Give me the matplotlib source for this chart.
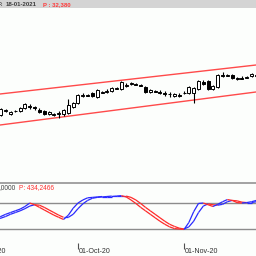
import matplotlib
matplotlib.use("Agg")
import matplotlib.pyplot as plt
import matplotlib.transforms as mtransforms
from matplotlib.collections import LineCollection
from matplotlib.patches import Rectangle
import pandas as pd

plt.rcParams["font.family"] = ["Liberation Sans", "DejaVu Sans"]

# ---------------- data ----------------
dates = pd.bdate_range("2020-09-01", periods=60)
first_idx = 6
opens = [30780, 30960, 30820, 30940, 30940, 31060, 31140, 31100, 30980, 30940,
         30820, 30780, 30840, 30820, 30860, 31100, 31260, 31560, 31580, 31660,
         31500, 31680, 31720, 31740, 31840, 31820, 31960, 32040, 32020, 31980,
         31900, 31700, 31740, 31700, 31660, 31640, 31540, 31580, 31660, 31660,
         31660, 31820, 32100, 32140, 31820, 31900, 32380, 32360, 32380, 32220,
         32260, 32280, 32340, 32340]
closes = [31020, 30980, 30900, 30960, 31060, 31220, 31100, 31060, 30900, 30820,
          30900, 30840, 30860, 30980, 31180, 31260, 31580, 31580, 31560, 31540,
          31780, 31700, 31740, 31860, 31860, 32100, 31980, 32060, 32000, 31960,
          31700, 31780, 31720, 31680, 31640, 31620, 31620, 31560, 31680, 31900,
          31860, 32140, 32020, 31820, 31940, 32380, 32360, 32380, 32260, 32260,
          32240, 32300, 32420, 32380]
highs = [31060, 31020, 30940, 31000, 31100, 31260, 31220, 31140, 31060, 30980,
         30940, 30880, 30940, 31020, 31420, 31300, 31620, 31660, 31620, 31700,
         31820, 31740, 31820, 31900, 31900, 32140, 32060, 32100, 32060, 32020,
         31940, 31820, 31780, 31780, 31740, 31700, 31660, 31660, 31740, 31940,
         31900, 32180, 32180, 32180, 31980, 32420, 32500, 32420, 32420, 32300,
         32340, 32340, 32460, 32420]
lows = [30740, 30900, 30780, 30900, 30900, 31020, 31020, 30980, 30860, 30780,
        30780, 30740, 30660, 30740, 30820, 31060, 31220, 31500, 31540, 31500,
        31460, 31660, 31660, 31700, 31820, 31780, 31900, 31980, 31980, 31940,
        31660, 31660, 31700, 31620, 31540, 31500, 31500, 31500, 31620, 31620,
        31260, 31780, 31980, 31780, 31780, 31860, 32300, 32340, 32220, 32180,
        32220, 32260, 32300, 32300]

# channel anchors (bar index, price)
channel_upper = [(0, 31493), (60, 32803)]
channel_lower = [(0, 30235), (60, 31727)]

# stochastic oscillator, from bar 5
stoch_first = 5
stoch_k = [45, 49, 54, 58, 62, 66, 72, 80, 76, 70, 64, 58, 52, 47, 42, 52, 68, 80,
           87, 92, 93, 94, 95, 95, 96, 96, 97, 94, 87, 79, 70, 62, 54, 46, 38, 31,
           25, 21, 20, 19, 35, 60, 79, 80, 76, 72, 77, 83, 88, 86, 81, 80, 81, 83, 86]
stoch_d = [42, 45, 49, 54, 58, 62, 67, 73, 76, 75, 70, 64, 58, 52, 47, 47, 54, 67,
           78, 86, 91, 93, 94, 95, 95, 96, 96, 96, 93, 87, 79, 70, 62, 54, 46, 38,
           31, 26, 22, 20, 25, 38, 58, 73, 78, 76, 75, 77, 83, 86, 85, 82, 81, 81, 83]
stoch_levels = [80, 20]

tick_dates = ["2020-09-01", "2020-10-01", "2020-11-02"]
tick_labels = ["01-Sep-20", "01-Oct-20", "01-Nov-20"]

header_date = "18-01-2021"
header_price = "P : 32,380"
low_header_a = ",0000"
low_header_b = "P: 434,2466"

# ---------------- figure ----------------
W = H = 256
fig = plt.figure(figsize=(2.56, 2.56), dpi=100)
fig.patch.set_facecolor("#fcfefc")

def fy(px):
    return 1 - px / H

fig.patches.append(Rectangle((0, fy(8)), 1, 8 / H, transform=fig.transFigure,
                             facecolor="#d4d4d4", edgecolor="none", zorder=0))
fig.patches.append(Rectangle((0, fy(184)), 1, 2 / H, transform=fig.transFigure,
                             facecolor="#a4a4a4", edgecolor="none", zorder=0))

xlim = (5.82, 58.93)

ax = fig.add_axes([0, fy(182), 1, 174 / H])
ax.set_facecolor("#fcfefc")
for s in ax.spines.values():
    s.set_visible(False)
ax.set_xticks([]); ax.set_yticks([])

for ch in (channel_upper, channel_lower):
    ax.plot([p[0] for p in ch], [p[1] for p in ch], color="#ff4a4a", lw=1.0, zorder=1)

xs = list(range(first_idx, first_idx + len(opens)))
for x, o, c, h, l in zip(xs, opens, closes, highs, lows):
    ax.vlines(x, l, h, color="black", lw=0.8, zorder=2)
    bot = min(o, c)
    hgt = max(abs(c - o), 1)
    fc = "white" if c >= o else "black"
    ax.bar(x, hgt, bottom=bot, width=0.62, facecolor=fc, edgecolor="black",
           linewidth=0.7, zorder=3)
ax.set_xlim(*xlim)
ax.set_ylim(28100, 35060)

ax2 = fig.add_axes([0, fy(243), 1, 59 / H])
ax2.set_facecolor("#fcfefc")
for s in ax2.spines.values():
    s.set_visible(False)
ax2.set_yticks([])
for lv in stoch_levels:
    ax2.axhline(lv, color="#8c8c8c", lw=1.0, zorder=1)

def colored(vals, first):
    segs, cols = [], []
    for j in range(len(vals) - 1):
        x0 = first + j
        segs.append([(x0, vals[j]), (x0 + 1, vals[j + 1])])
        cols.append("#2a2aff" if vals[j + 1] >= vals[j] else "#ff2a2a")
    return LineCollection(segs, colors=cols, linewidths=0.9, zorder=3)

ax2.add_collection(colored(stoch_d, stoch_first))
ax2.add_collection(colored(stoch_k, stoch_first))

date_list = list(dates.strftime("%Y-%m-%d"))
tick_pos = [date_list.index(d) for d in tick_dates]
ax2.set_xticks(tick_pos)
ax2.tick_params(axis="x", direction="out", length=4.5, width=0.8,
                color="#505050", labelbottom=False)
ax2.set_xlim(*xlim)
ax2.set_ylim(-12.3, 123.9)
trans = mtransforms.blended_transform_factory(ax2.transData, fig.transFigure)
for p, lab in zip(tick_pos, tick_labels):
    ax2.text(p + 0.25, fy(251.5), lab, transform=trans, ha="left", va="center",
             fontsize=5.1, color="#303030", clip_on=False)

fs = 4.3
fig.text(3.5 / W, fy(4.2), "F:", ha="right", va="center", fontsize=fs,
         color="#3c3c3c", fontweight="bold")
fig.text(5.5 / W, fy(4.2), header_date, ha="left", va="center", fontsize=fs,
         color="#3c3c3c", fontweight="bold")
fig.text(43 / W, fy(4.2), header_price, ha="left", va="center", fontsize=fs,
         color="#ff3a3a", fontweight="bold")
fig.text(-1 / W, fy(187.5), low_header_a, ha="left", va="center", fontsize=4.7,
         color="#404040")
fig.text(19 / W, fy(187.5), low_header_b, ha="left", va="center", fontsize=4.7,
         color="#ff3030")

fig.savefig("out.png", dpi=100, facecolor=fig.get_facecolor())
